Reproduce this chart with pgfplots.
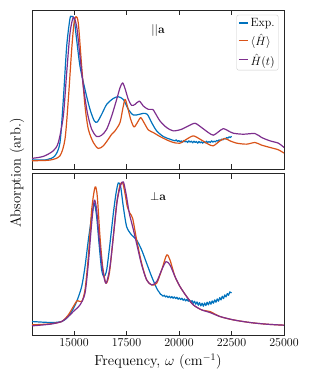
\documentclass[border=0pt]{standalone}
\usepackage{pgfplots}
\pgfplotsset{compat=1.18}
\definecolor{mblue}{RGB}{0,114,189}
\definecolor{morange}{RGB}{217,83,25}
\definecolor{mpurple}{RGB}{126,47,142}
\pgfplotsset{
  panel/.style={
    scale only axis, width=252pt, xmin=13000, xmax=25000,
    ymin=0, ytick=\empty,
    xtick={15000,17500,20000,22500,25000},
    scaled x ticks=false,
    /pgf/number format/1000 sep={},
    tick align=inside, xtick pos=both, major tick length=5pt,
    axis line style={line width=0.8pt, black!85},
    every tick/.style={black!85, line width=0.6pt},
    tick label style={font=\fontsize{11.5}{13}\selectfont},
    label style={font=\fontsize{14.5}{17}\selectfont},
    every axis plot/.append style={line width=1.2pt, line join=round, smooth, tension=0.45},
    anchor=north west,
  }
}
\begin{document}
\begin{tikzpicture}
\path[use as bounding box] (0,0) rectangle (313pt,-386pt);
\begin{axis}[panel, at={(32pt,-10pt)}, height=159pt, ymax=480, xticklabels={},
  legend style={at={(rel axis cs:0.978,0.97)}, anchor=north east, draw=black!20, rounded corners=2pt,
    font=\fontsize{12}{13}\selectfont, inner sep=1.5pt, row sep=2.4pt,
    legend cell align=left},
  legend image code/.code={\draw[#1, line width=1.5pt] (0pt,0.5pt) -- (9pt,0.5pt);},
  ]
\addplot[mblue] coordinates {
(13000,27) (13698,28) (14095,40) (14333,80) (14492,210) (14651,370) (14810,455) (14889,460)
(15000,455) (15127,390) (15286,310) (15524,240) (15762,180) (15968,145) (16111,142) (16317,165)
(16556,195) (16873,213) (17111,218) (17349,210) (17587,180) (17825,163) (18111,165) (18302,168)
(18492,165) (18698,140) (18937,115) (19254,98) (19571,90)
(19810,85) (19870,88) (19930,83) (19990,86) (20050,82) (20110,85) (20170,81) (20230,86) (20290,82)
(20350,84) (20410,80) (20470,85) (20530,81) (20590,84) (20650,79) (20710,84) (20770,80) (20830,83)
(20890,78) (20950,83) (21010,79) (21070,82) (21130,78) (21190,83) (21250,79) (21310,84) (21370,80)
(21430,83) (21490,80) (21550,85) (21610,81) (21670,84) (21730,82) (21790,86) (21850,84) (21910,88)
(21970,86) (22030,90) (22090,88) (22150,92) (22210,91) (22270,95) (22330,93) (22390,97) (22450,95)
(22500,99)
};
\addlegendentry{Exp.}
\addplot[morange] coordinates {
(13000,25) (13857,27) (14333,40) (14571,90) (14730,210) (14889,360) (15000,440) (15095,460)
(15206,440) (15365,310) (15524,190) (15683,120) (15921,80) (16159,62) (16397,70) (16635,90)
(16794,105) (16952,115) (17190,140) (17317,180) (17429,210) (17540,190) (17698,150) (17857,127)
(18016,140) (18175,155) (18333,140) (18540,118) (18778,110) (19095,98) (19413,88) (19730,80)
(20048,78) (20365,90) (20683,100) (21000,90) (21397,75) (21635,70) (21952,85) (22190,92)
(22429,85) (22746,78) (23222,75) (23619,80) (23937,72) (24333,65) (24730,58) (25000,48)
};
\addlegendentry{$\langle\hat{H}\rangle$}
\addplot[mpurple] coordinates {
(13000,32) (13540,38) (14016,55) (14254,80) (14492,160) (14651,290) (14810,410) (14968,458)
(15127,430) (15286,340) (15444,250) (15635,170) (15841,120) (16079,98) (16317,102) (16556,120)
(16794,160) (17032,210) (17190,245) (17317,260) (17444,240) (17587,210) (17746,192) (17905,195)
(18111,205) (18302,190) (18540,180) (18746,180) (18857,170) (19095,145) (19413,125) (19730,115)
(20127,120) (20444,130) (20762,138) (21079,125) (21397,110) (21635,102) (21873,112) (22111,122)
(22349,115) (22587,108) (23063,105) (23619,107) (23937,95) (24333,85) (24730,78) (25000,65)
};
\addlegendentry{$\hat{H}(t)$}
\node[font=\fontsize{12}{13}\selectfont] at (rel axis cs:0.5,0.87) {$||\mathbf{a}$};
\end{axis}
\begin{axis}[panel, at={(32pt,-173.5pt)}, height=162pt, ymax=487,
  xlabel={Frequency, $\omega$ (cm$^{-1}$)}]
\addplot[mblue] coordinates {
(13000,42) (13540,40) (14016,39) (14413,42) (14651,52) (14889,72) (15127,102) (15365,147)
(15524,207) (15683,287) (15841,357) (15968,397) (16079,357) (16206,267) (16317,197) (16429,177)
(16556,197) (16714,277) (16873,367) (17000,427) (17111,459) (17222,447) (17349,387) (17508,327)
(17746,302) (17984,287) (18222,257) (18460,217) (18698,177)
(18937,142) (19000,135) (19060,130) (19120,124) (19180,122) (19240,118) (19300,121) (19360,116)
(19420,119) (19480,114) (19540,118) (19600,113) (19660,117) (19720,112) (19780,116) (19840,111)
(19900,115) (19960,109) (20020,113) (20080,108) (20140,112) (20200,106) (20260,110) (20320,104)
(20380,109) (20440,103) (20500,107) (20560,100) (20620,105) (20680,97) (20740,103) (20800,94)
(20860,101) (20920,91) (20980,99) (21040,89) (21100,97) (21160,88) (21220,98) (21280,90)
(21340,100) (21400,92) (21460,102) (21520,94) (21580,104) (21640,97) (21700,107) (21760,100)
(21820,110) (21880,103) (21940,114) (22000,107) (22060,118) (22120,111) (22180,122) (22240,116)
(22300,126) (22360,121) (22420,131) (22500,128)
};
\addplot[morange] coordinates {
(13000,32) (13857,35) (14413,42) (14730,62) (14968,87) (15159,105) (15365,102) (15524,137)
(15683,237) (15841,377) (15968,437) (16032,447) (16111,417) (16238,297) (16365,207) (16524,157)
(16683,187) (16873,297) (17032,397) (17190,452) (17317,459) (17429,427) (17540,387) (17667,367)
(17794,352) (17984,287) (18222,217) (18460,167) (18698,152) (18937,157) (19175,197) (19413,242)
(19571,227) (19810,177) (20048,147) (20365,117) (20683,92) (21079,77) (21476,72) (21952,57)
(22587,47) (23381,39) (24175,34) (25000,31)
};
\addplot[mpurple] coordinates {
(13000,29) (13857,34) (14413,42) (14730,57) (14968,72) (15286,92) (15524,127) (15683,217)
(15841,337) (15968,407) (16079,377) (16206,287) (16365,197) (16524,157) (16714,207) (16905,317)
(17063,407) (17222,452) (17349,462) (17476,427) (17635,367) (17794,327) (18016,267) (18222,212)
(18460,167) (18698,152) (18937,162) (19175,197) (19381,222) (19571,212) (19810,177) (20048,147)
(20365,117) (20683,92) (21079,77) (21476,69) (21952,57) (22587,47) (23381,39) (24175,34)
(25000,31)
};
\node[font=\fontsize{12}{13}\selectfont] at (rel axis cs:0.5,0.86) {$\mathord{\perp}\mathbf{a}$};
\end{axis}
\node[rotate=90, font=\fontsize{14.5}{17}\selectfont] at (17pt,-173pt) {Absorption (arb.)};
\end{tikzpicture}
\end{document}
